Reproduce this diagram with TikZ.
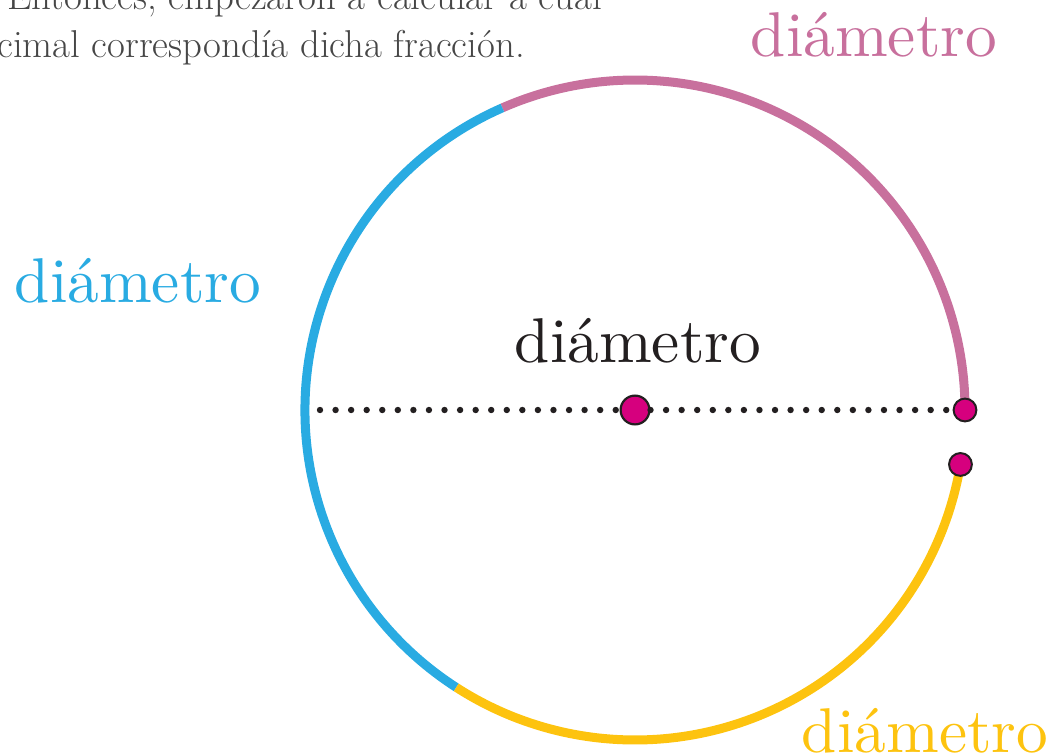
\documentclass[tikz,border=0pt]{standalone}
\usepackage{fontspec}
\usetikzlibrary{positioning,calc}
\newfontfamily\labelfont{lmroman10-regular.otf}
\definecolor{arcpink}{RGB}{200,112,157}
\definecolor{arcblue}{RGB}{41,171,226}
\definecolor{arcyellow}{RGB}{253,195,15}
\definecolor{dotmagenta}{RGB}{214,0,126}
\definecolor{inkdark}{RGB}{35,31,32}
\definecolor{bodygray}{RGB}{70,70,70}
\tikzset{
  arcline/.style={line width=0.225cm},
  dotline/.style={line width=0.16cm,line cap=round,dash pattern=on 0pt off 0.389cm,draw=inkdark},
  centredot/.style={circle,draw=inkdark,fill=dotmagenta,line width=0.055cm,minimum size=0.72cm,inner sep=0pt},
  enddot/.style={circle,draw=inkdark,fill=dotmagenta,line width=0.05cm,minimum size=0.57cm,inner sep=0pt},
  dialabel/.style={anchor=base,inner sep=0pt,font={\labelfont\fontsize{45}{50}\selectfont}},
  bodytext/.style={anchor=base west,inner sep=0pt,text=bodygray,font={\fontsize{27.6}{32}\selectfont}}
}
\begin{document}
\begin{tikzpicture}[x=0.025cm,y=-0.025cm]
  \useasboundingbox (0,0) rectangle (1056,755);
  \clip (0,0) rectangle (1056,755);

  % text of the page
  \node[bodytext] (line1) at (7,10) {Entonces, empezaron a calcular a cuál};
  \node[bodytext] (line2) at (-3,58) {cimal correspondía dicha fracción.};

  % circle made of three diameters
  \coordinate (O) at (635,410);
  \draw[arcline,arcpink] (O) ++(0:330) arc[start angle=0,end angle=-113.7,radius=330];
  \draw[arcline,arcblue] (O) ++(-113.7:330) arc[start angle=-113.7,end angle=-237.2,radius=330];
  \draw[arcline,arcyellow] (O) ++(-237.2:330) arc[start angle=-237.2,end angle=-350.5,radius=330];

  \coordinate (L) at (320,410);
  \node[centredot] (C) at (O) {};
  \node[enddot] (P) at ($(O)+(0:330)$) {};
  \node[enddot] (Q) at ($(O)+(-350.5:330)$) {};
  \draw[dotline] (L) -- (C);
  \draw[dotline] (C) -- (P);

  % labels
  \node[dialabel,text=arcpink] (labtop) at (874,57) {diámetro};
  \node[dialabel,text=arcblue] (lableft) at (138,302) {diámetro};
  \node[dialabel,text=inkdark] (labmid) at (638,362) {diámetro};
  \node[dialabel,text=arcyellow] (labbottom) at (925,752) {diámetro};
\end{tikzpicture}
\end{document}
